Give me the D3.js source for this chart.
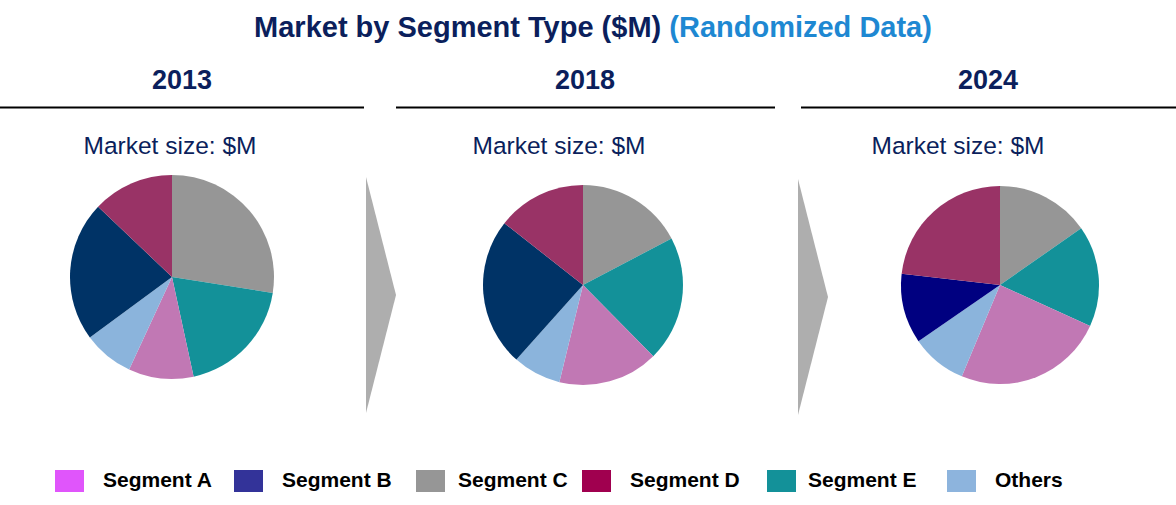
<!DOCTYPE html>
<html>
<head>
<meta charset="utf-8">
<script src="https://cdn.jsdelivr.net/npm/d3@7"></script>
<style>
  body { margin: 0; background: #fff; }
  text { font-family: "Liberation Sans", Arial, sans-serif; }
</style>
</head>
<body>
<div id="chart"></div>
<script>
// data
const years = ["2013", "2018", "2024"];
const segments = ["Segment A", "Segment B", "Segment C", "Segment D", "Segment E", "Others"];
// share of market (%) per segment, in the order of `segments`
const share2013 = [10.3, 22.2, 27.5, 12.9, 19.1, 8.0];
const share2018 = [16.2, 24.0, 17.3, 14.4, 20.3, 7.8];
const share2024 = [24.5, 11.4, 15.3, 23.2, 16.5, 9.1];
const shares = [share2013, share2018, share2024];
// order slices go round the pie, clockwise from 12 o'clock
const pieOrder = ["Segment C", "Segment E", "Segment A", "Others", "Segment B", "Segment D"];

// colours
const legendColors = ["#e055fb", "#333399", "#969696", "#a0004f", "#139199", "#8db4dd"];
const pieColors = ["#c178b4", "#003366", "#969696", "#993366", "#139199", "#8bb4dc"];
const pieColors2024 = ["#c178b4", "#000080", "#969696", "#993366", "#139199", "#8bb4dc"];
const navy = "#0b1f5c";

// layout
const width = 1176, height = 505;
const panels = [
  { cx: 172, cy: 277, r: 102, labelX: 170, yearX: 182, line: [0, 364] },
  { cx: 583, cy: 285, r: 100, labelX: 559, yearX: 585, line: [396, 775] },
  { cx: 1000, cy: 285, r: 99, labelX: 958, yearX: 988, line: [801, 1176] }
];
const arrows = [
  { x: 366, top: 177, bottom: 413, tip: 396 },
  { x: 798, top: 179, bottom: 415, tip: 828 }
];
const legendX = [55, 234, 416, 582, 767, 947];
const legendTextX = [103, 282, 458, 630, 808, 995];

const svg = d3.select("#chart").append("svg")
  .attr("width", width)
  .attr("height", height);

// title
const title = svg.append("text")
  .attr("x", 593)
  .attr("y", 37)
  .attr("text-anchor", "middle")
  .attr("font-size", 29)
  .attr("font-weight", "bold")
  .attr("fill", navy);
title.append("tspan").text("Market by Segment Type ($M) ");
title.append("tspan").attr("fill", "#1e88d2").text("(Randomized Data)");

const pie = d3.pie()
  .sort(null)
  .value(d => d.value);

years.forEach((year, i) => {
  const p = panels[i];
  const colors = year === "2024" ? pieColors2024 : pieColors;
  const color = d3.scaleOrdinal().domain(segments).range(colors);

  svg.append("text")
    .attr("x", p.yearX)
    .attr("y", 89)
    .attr("text-anchor", "middle")
    .attr("font-size", 27)
    .attr("font-weight", "bold")
    .attr("fill", navy)
    .text(year);

  svg.append("line")
    .attr("x1", p.line[0])
    .attr("x2", p.line[1])
    .attr("y1", 107.5)
    .attr("y2", 107.5)
    .attr("stroke", "#000")
    .attr("stroke-width", 2);

  svg.append("text")
    .attr("x", p.labelX)
    .attr("y", 154)
    .attr("text-anchor", "middle")
    .attr("font-size", 24.5)
    .attr("fill", navy)
    .text("Market size: $M");

  const input = pieOrder.map(s => ({ key: s, value: shares[i][segments.indexOf(s)] }));
  const arc = d3.arc().innerRadius(0).outerRadius(p.r);

  svg.append("g")
    .attr("transform", "translate(" + p.cx + "," + p.cy + ")")
    .selectAll("path")
    .data(pie(input))
    .enter()
    .append("path")
    .attr("d", arc)
    .attr("fill", d => color(d.data.key));
});

// grey chevrons between the pies
svg.selectAll(".arrow")
  .data(arrows)
  .enter()
  .append("path")
  .attr("class", "arrow")
  .attr("d", a => "M" + a.x + "," + a.top + "L" + a.tip + "," + (a.top + a.bottom) / 2 +
    "L" + a.x + "," + a.bottom + "Z")
  .attr("fill", "#aeaeae");

// legend
const legend = svg.append("g")
  .selectAll("g")
  .data(segments)
  .enter()
  .append("g");

legend.append("rect")
  .attr("x", (d, i) => legendX[i])
  .attr("y", 470)
  .attr("width", 29)
  .attr("height", 22)
  .attr("fill", (d, i) => legendColors[i]);

legend.append("text")
  .attr("x", (d, i) => legendTextX[i])
  .attr("y", 487)
  .attr("font-size", 21)
  .attr("font-weight", "bold")
  .attr("fill", "#000")
  .text(d => d);
</script>
</body>
</html>
